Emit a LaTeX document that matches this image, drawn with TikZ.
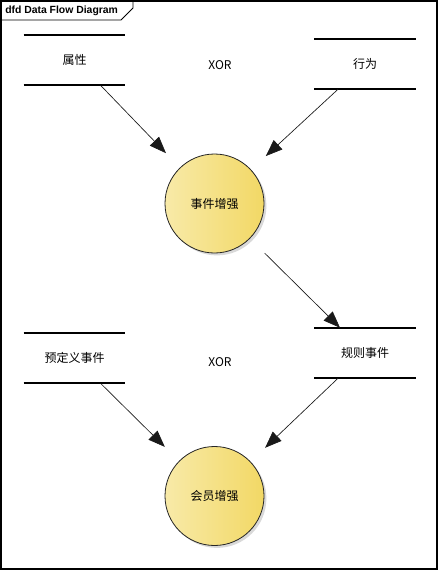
\documentclass[tikz,border=0pt]{standalone}
\usepackage{fontspec}
\setmainfont{Liberation Sans}
\newfontfamily\cjk{Noto Sans CJK SC}
\usetikzlibrary{arrows.meta,shadows}
\definecolor{bubL}{HTML}{F8EAA8}
\definecolor{bubR}{HTML}{F2D865}
\tikzset{
  px/.style={x=0.75pt,y=-0.75pt},
  store/.style={minimum width=75.75pt,minimum height=37.5pt,inner sep=0pt,font=\cjk\fontsize{9}{11}\selectfont},
  storeline/.style={line width=1.5pt},
  bubble/.style={circle,draw=black!85,line width=0.6pt,minimum size=74.25pt,inner sep=0pt,
    left color=bubL,right color=bubR,shading angle=90,
    drop shadow={shadow xshift=1.8pt,shadow yshift=-1.8pt,fill=black!25,opacity=0.6},
    font=\cjk\fontsize{9}{11}\selectfont},
  flow/.style={-{Triangle[length=12.5pt,width=9.5pt]},line width=0.5pt,black!90},
  xorlab/.style={font=\cjk\fontsize{9}{11}\selectfont}
}
\begin{document}
\begin{tikzpicture}[px]
\useasboundingbox (0,0) rectangle (440,571);
% frame
\draw[line width=0.9pt] (1,1) rectangle (437,569);
\draw[line width=0.7pt] (1,20) -- (121,20) -- (133,8) -- (133,1);
\node[anchor=west,inner sep=0pt,font=\bfseries\fontsize{7.8}{9}\selectfont] (title) at (5,11) {dfd Data Flow Diagram};
% stores
\node[store] (s1) at (74.5,60) {属性};
\node[store] (s2) at (365,64) {行为};
\node[store] (s3) at (74.5,358) {预定义事件};
\node[store] (s4) at (365,353) {规则事件};
\foreach \s in {s1,s2,s3,s4}{
  \draw[storeline] (\s.north west) -- (\s.north east);
  \draw[storeline] (\s.south west) -- (\s.south east);
}
\node[xorlab] (x1) at (220,65) {XOR};
\node[xorlab] (x2) at (220,362) {XOR};
% bubbles
\node[bubble] (c1) at (214.5,203.5) {事件增强};
\node[bubble] (c2) at (214.5,496) {会员增强};
% flows
\draw[flow,shorten >=15pt] ([xshift=19.5pt]s1.south) -- (c1);
\draw[flow,shorten >=15pt] ([xshift=-20.25pt]s2.south) -- (c1);
\draw[flow,shorten <=15.5pt] (c1) -- ([xshift=-18.75pt]s4.north);
\draw[flow,shorten >=15pt] ([xshift=19.5pt]s3.south) -- (c2);
\draw[flow,shorten >=15pt] ([xshift=-20.25pt]s4.south) -- (c2);
\end{tikzpicture}
\end{document}
